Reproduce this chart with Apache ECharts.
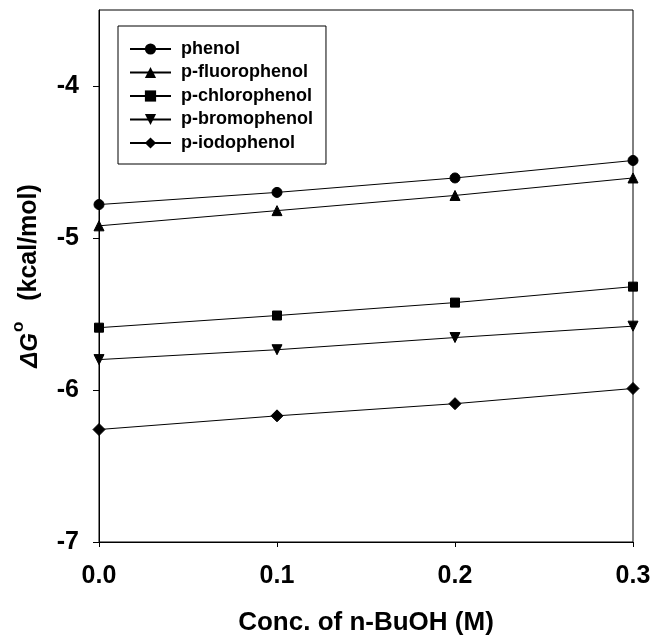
<!DOCTYPE html>
<html>
<head>
<meta charset="utf-8">
<script src="https://cdn.jsdelivr.net/npm/echarts@6/dist/echarts.min.js"></script>
<style>html,body{margin:0;padding:0;background:#fff}#c{width:667px;height:641px}</style>
</head>
<body>
<div id="c"></div>
<script>
const concentrations = [0.0, 0.1, 0.2, 0.3];
const phenol = [-4.78, -4.70, -4.605, -4.49];
const pFluorophenol = [-4.92, -4.82, -4.72, -4.605];
const pChlorophenol = [-5.59, -5.51, -5.425, -5.32];
const pBromophenol = [-5.80, -5.735, -5.655, -5.58];
const pIodophenol = [-6.26, -6.17, -6.09, -5.99];
const seriesNames = ['phenol', 'p-fluorophenol', 'p-chlorophenol', 'p-bromophenol', 'p-iodophenol'];
const seriesValues = [phenol, pFluorophenol, pChlorophenol, pBromophenol, pIodophenol];
const symbols = ['circle', 'triangle', 'rect', 'triangle', 'diamond'];
const symbolRotations = [0, 0, 0, 180, 0];
const symbolSizes = [10, 10, 9, 10, 12];
const xTicks = [0.0, 0.1, 0.2, 0.3];
const yTicks = [-7, -6, -5, -4];
const yMax = -3.5;

const FONT = '"Liberation Sans", Arial, sans-serif';
const chart = echarts.init(document.getElementById('c'));
chart.setOption({
  animation: false,
  backgroundColor: '#fff',
  grid: { left: 99, right: 34, top: 10, bottom: 95, show: true, borderColor: '#000', borderWidth: 1 },
  legend: {
    left: 118, top: 26, orient: 'vertical',
    data: seriesNames,
    itemWidth: 41, itemHeight: 14, itemGap: 5.5,
    padding: [14, 13, 12, 11],
    borderColor: '#000', borderWidth: 1,
    textStyle: { fontFamily: FONT, fontWeight: 'bold', fontSize: 18, color: '#000', padding: [0, 0, 0, 5] }
  },
  xAxis: {
    type: 'value', min: xTicks[0], max: xTicks[xTicks.length - 1], interval: 0.1,
    name: 'Conc. of n-BuOH (M)', nameLocation: 'middle', nameGap: 68,
    nameTextStyle: { fontFamily: FONT, fontWeight: 'bold', fontSize: 26, color: '#000' },
    axisLine: { lineStyle: { color: '#000', width: 1 } },
    axisTick: { show: true, inside: false, length: 5, lineStyle: { color: '#000' } },
    axisLabel: { margin: 22, fontFamily: FONT, fontWeight: 'bold', fontSize: 25, color: '#000',
      formatter: v => Number(v).toFixed(1) },
    splitLine: { show: false }
  },
  yAxis: {
    type: 'value', min: yTicks[0], max: yMax, interval: 1,
    name: '{d|ΔG}{s|o}{n|   (kcal/mol)}', nameLocation: 'middle', nameGap: 57,
    nameTextStyle: {
      fontFamily: FONT, fontWeight: 'bold', fontSize: 25, color: '#000',
      rich: {
        d: { fontFamily: FONT, fontWeight: 'bold', fontStyle: 'italic', fontSize: 24, lineHeight: 32, verticalAlign: 'bottom' },
        s: { fontFamily: FONT, fontWeight: 'bold', fontSize: 17, lineHeight: 32, verticalAlign: 'top', padding: [0, 0, 0, 1] },
        n: { fontFamily: FONT, fontWeight: 'bold', fontSize: 25, lineHeight: 32, verticalAlign: 'bottom' }
      }
    },
    axisLine: { show: true, lineStyle: { color: '#000', width: 1 } },
    axisTick: { show: true, inside: false, length: 6, lineStyle: { color: '#000' } },
    axisLabel: { margin: 20, fontFamily: FONT, fontWeight: 'bold', fontSize: 25, color: '#000',
      showMaxLabel: false,
      formatter: v => (Number.isInteger(v) ? String(v) : '') },
    splitLine: { show: false }
  },
  series: seriesNames.map((name, i) => ({
    name: name, type: 'line',
    data: concentrations.map((x, j) => [x, seriesValues[i][j]]),
    symbol: symbols[i], symbolSize: symbolSizes[i], symbolRotate: symbolRotations[i],
    showAllSymbol: true,
    lineStyle: { color: '#000', width: 1 },
    itemStyle: { color: '#000', borderColor: '#000' },
    z: 3
  }))
});
</script>
</body>
</html>
